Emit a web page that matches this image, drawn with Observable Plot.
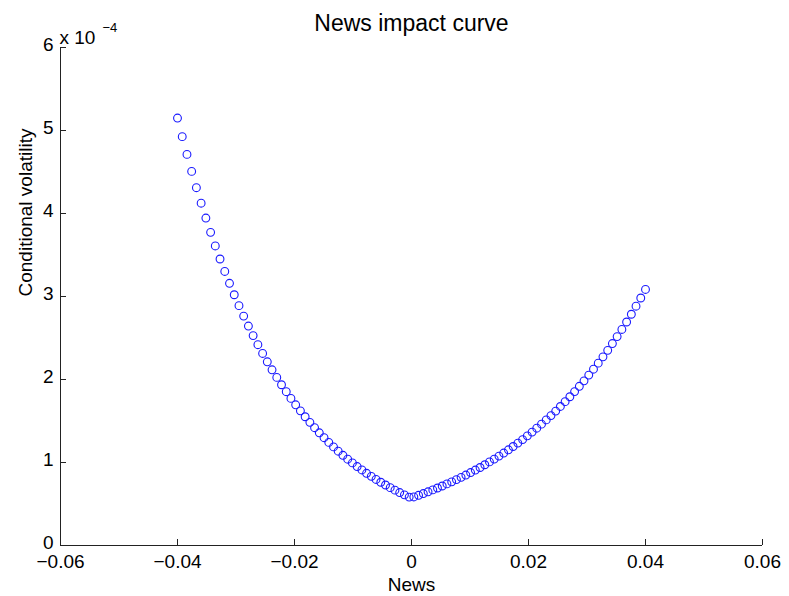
<!DOCTYPE html>
<html>
<head>
<meta charset="utf-8">
<script src="https://cdn.jsdelivr.net/npm/d3@7"></script>
<script src="https://cdn.jsdelivr.net/npm/@observablehq/plot@0.6"></script>
<style>
  html, body { margin: 0; padding: 0; background: white; }
  #chart svg { display: block; }
</style>
</head>
<body>
<div id="chart"></div>
<script>
const titleText = "News impact curve";
const xLabel = "News";
const yLabel = "Conditional volatility";
const yMultiplier = "x 10";
const yExponent = "\u22124";

const xTicks = [-0.06, -0.04, -0.02, 0, 0.02, 0.04, 0.06];
const yTicks = [0, 1, 2, 3, 4, 5, 6];

const news = [
  -0.04000, -0.03919, -0.03838, -0.03758, -0.03677, -0.03596, -0.03515, -0.03434, -0.03354, -0.03273,
  -0.03192, -0.03111, -0.03030, -0.02949, -0.02869, -0.02788, -0.02707, -0.02626, -0.02545, -0.02465,
  -0.02384, -0.02303, -0.02222, -0.02141, -0.02061, -0.01980, -0.01899, -0.01818, -0.01737, -0.01657,
  -0.01576, -0.01495, -0.01414, -0.01333, -0.01253, -0.01172, -0.01091, -0.01010, -0.00929, -0.00848,
  -0.00768, -0.00687, -0.00606, -0.00525, -0.00444, -0.00364, -0.00283, -0.00202, -0.00121, -0.00040,
  0.00040, 0.00121, 0.00202, 0.00283, 0.00364, 0.00444, 0.00525, 0.00606, 0.00687, 0.00768,
  0.00848, 0.00929, 0.01010, 0.01091, 0.01172, 0.01253, 0.01333, 0.01414, 0.01495, 0.01576,
  0.01657, 0.01737, 0.01818, 0.01899, 0.01980, 0.02061, 0.02141, 0.02222, 0.02303, 0.02384,
  0.02465, 0.02545, 0.02626, 0.02707, 0.02788, 0.02869, 0.02949, 0.03030, 0.03111, 0.03192,
  0.03273, 0.03354, 0.03434, 0.03515, 0.03596, 0.03677, 0.03758, 0.03838, 0.03919, 0.04000
];

// conditional volatility, in units of 1e-4 (as on the axis)
const volatility = [
  5.150, 4.926, 4.712, 4.507, 4.311, 4.124, 3.945, 3.773, 3.609, 3.452,
  3.302, 3.159, 3.021, 2.890, 2.764, 2.644, 2.529, 2.419, 2.314, 2.213,
  2.117, 2.025, 1.937, 1.853, 1.772, 1.695, 1.622, 1.551, 1.484, 1.419,
  1.358, 1.299, 1.242, 1.188, 1.136, 1.087, 1.040, 0.995, 0.951, 0.910,
  0.870, 0.833, 0.796, 0.762, 0.729, 0.697, 0.667, 0.638, 0.610, 0.583,
  0.585, 0.605, 0.626, 0.647, 0.670, 0.693, 0.717, 0.742, 0.767, 0.794,
  0.821, 0.849, 0.879, 0.909, 0.940, 0.973, 1.007, 1.041, 1.077, 1.114,
  1.153, 1.193, 1.234, 1.276, 1.321, 1.366, 1.413, 1.462, 1.513, 1.565,
  1.619, 1.675, 1.733, 1.792, 1.854, 1.918, 1.984, 2.053, 2.124, 2.197,
  2.273, 2.351, 2.433, 2.517, 2.603, 2.693, 2.786, 2.883, 2.982, 3.085
];

const data = news.map((x, i) => ({x, y: volatility[i]}));
const fmt = d => d === 0 ? "0" : d3.format(".2f")(d).replace("-", "\u2212");

const chart = Plot.plot({
  width: 789,
  height: 596,
  marginLeft: 60,
  marginRight: 27,
  marginTop: 47,
  marginBottom: 51,
  style: {fontFamily: "'Liberation Sans', Arial, Helvetica, sans-serif", background: "white", color: "black"},
  x: {domain: [-0.06, 0.06]},
  y: {domain: [0, 6]},
  marks: [
    Plot.ruleY([0], {stroke: "#222", strokeWidth: 1}),
    Plot.ruleX([-0.06], {stroke: "#222", strokeWidth: 1}),
    Plot.axisX(xTicks, {anchor: "bottom", tickSize: -6, tickPadding: 15, tickFormat: fmt, fontSize: 19, label: null, stroke: "#222"}),
    Plot.axisY(yTicks, {anchor: "left", tickSize: -6, tickFormat: () => "", label: null, stroke: "#222"}),
    Plot.axisY(yTicks, {anchor: "left", tickSize: 0, tickPadding: 7, tickFormat: d => String(d), fontSize: 19, label: null, dy: -3}),
    Plot.dot(data, {x: "x", y: "y", r: 3.9, stroke: "#1a1aff", strokeWidth: 1.1, fill: "none"}),
    Plot.text([titleText], {frameAnchor: "top", dy: -33, fontSize: 23, fill: "black"}),
    Plot.text([xLabel], {frameAnchor: "bottom", dy: 45, fontSize: 19, fill: "black"}),
    Plot.text([yLabel], {frameAnchor: "left", dx: -35, rotate: -90, fontSize: 19, fill: "black"}),
    Plot.text([yMultiplier], {frameAnchor: "top-left", textAnchor: "start", dx: -1, dy: -17, fontSize: 19, fill: "black"}),
    Plot.text([yExponent], {frameAnchor: "top-left", textAnchor: "start", dx: 42, dy: -25, fontSize: 13, fill: "black"})
  ]
});
document.getElementById("chart").appendChild(chart);
</script>
</body>
</html>
